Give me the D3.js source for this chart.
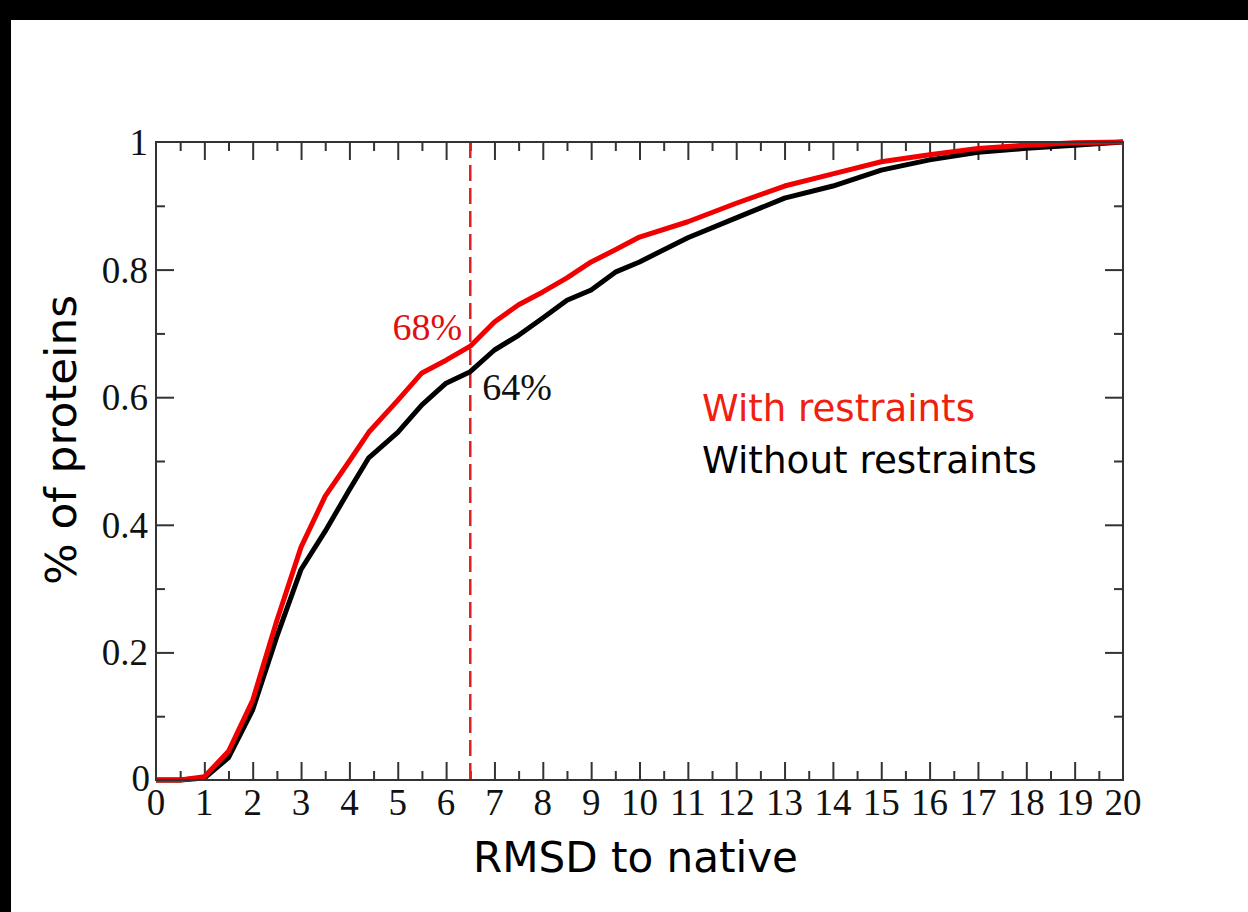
<!DOCTYPE html>
<html>
<head>
<meta charset="utf-8">
<script src="https://cdn.jsdelivr.net/npm/d3@7"></script>
<style>
html,body{margin:0;padding:0;background:#000;}
svg{display:block;}
</style>
</head>
<body>
<svg id="chart" width="1248" height="912"></svg>
<script>
// ---- data ----
const rmsd = [0,0.5,1,1.5,2,2.5,3,3.5,4,4.4,5,5.5,6,6.5,7,7.5,8,8.5,9,9.5,10,11,12,13,14,15,16,17,18,19,20];
const withRestraints = [0,0,0.005,0.045,0.125,0.25,0.365,0.445,0.5,0.545,0.595,0.638,0.658,0.68,0.718,0.745,0.765,0.787,0.812,0.831,0.851,0.875,0.904,0.931,0.95,0.969,0.98,0.99,0.995,0.999,1];
const withoutRestraints = [0,0,0.003,0.035,0.11,0.225,0.33,0.39,0.455,0.505,0.545,0.588,0.622,0.64,0.674,0.697,0.724,0.752,0.768,0.796,0.812,0.85,0.881,0.912,0.931,0.956,0.972,0.984,0.99,0.995,1];
const xTickLabels = d3.range(0,21);
const yTickLabels = [0,0.2,0.4,0.6,0.8,1];
const cutoff = 6.5;
const annotations = [{text:"68%", series:"with"},{text:"64%", series:"without"}];
const legendLabels = ["With restraints","Without restraints"];

// ---- layout ----
const svg = d3.select("#chart");
svg.append("rect").attr("x",11).attr("y",20).attr("width",1237).attr("height",892).attr("fill","#fff");

const L=156, R=1123, T=142, B=780;
const x = d3.scaleLinear().domain([0,20]).range([L,R]);
const y = d3.scaleLinear().domain([0,1]).range([B,T]);
const axisColor = "#333";
const serif = "'Liberation Serif','Times New Roman',serif";
const sans = "'DejaVu Sans',Verdana,sans-serif";

function drawTicks(g, axisGen){
  g.call(axisGen);
  g.select(".domain").remove();
  g.selectAll(".tick line").attr("stroke",axisColor).attr("stroke-width",2);
  g.selectAll(".tick text").remove();
}
const xMinor = d3.range(0,20.01,0.5).filter(v=>v%1!==0);
const yMinor = d3.range(0.1,1,0.2);
drawTicks(svg.append("g").attr("transform",`translate(0,${B})`), d3.axisBottom(x).tickValues(d3.range(1,20)).tickSize(-18));
drawTicks(svg.append("g").attr("transform",`translate(0,${B})`), d3.axisBottom(x).tickValues(xMinor).tickSize(-9));
drawTicks(svg.append("g").attr("transform",`translate(0,${T})`), d3.axisTop(x).tickValues(d3.range(1,20)).tickSize(-18));
drawTicks(svg.append("g").attr("transform",`translate(0,${T})`), d3.axisTop(x).tickValues(xMinor).tickSize(-9));
drawTicks(svg.append("g").attr("transform",`translate(${L},0)`), d3.axisLeft(y).tickValues([0.2,0.4,0.6,0.8]).tickSize(-18));
drawTicks(svg.append("g").attr("transform",`translate(${L},0)`), d3.axisLeft(y).tickValues(yMinor).tickSize(-9));
drawTicks(svg.append("g").attr("transform",`translate(${R},0)`), d3.axisRight(y).tickValues([0.2,0.4,0.6,0.8]).tickSize(-18));
drawTicks(svg.append("g").attr("transform",`translate(${R},0)`), d3.axisRight(y).tickValues(yMinor).tickSize(-9));

// cutoff dashed line
svg.append("line").attr("x1",x(cutoff)).attr("x2",x(cutoff)).attr("y1",T).attr("y2",B)
  .attr("stroke","#e02020").attr("stroke-width",2.5).attr("stroke-dasharray","16,7");

// curves
const line = d3.line().x((d,i)=>x(rmsd[i])).y(d=>y(d));
svg.append("path").datum(withoutRestraints).attr("d",line).attr("fill","none")
  .attr("stroke","#000").attr("stroke-width",5).attr("stroke-linejoin","round");
svg.append("path").datum(withRestraints).attr("d",line).attr("fill","none")
  .attr("stroke","#f00000").attr("stroke-width",5).attr("stroke-linejoin","round");

// frame
svg.append("rect").attr("x",L).attr("y",T).attr("width",R-L).attr("height",B-T)
  .attr("fill","none").attr("stroke",axisColor).attr("stroke-width",2);

// tick labels
svg.append("g").selectAll("text").data(xTickLabels).join("text")
  .attr("x",d=>x(d)).attr("y",B+35).attr("text-anchor","middle")
  .attr("font-family",serif).attr("font-size",37).attr("fill","#111").text(d=>d);
svg.append("g").selectAll("text").data(yTickLabels).join("text")
  .attr("x",d=>d===0?L-6:L-8).attr("y",d=>y(d)+(d===0?11:13)).attr("text-anchor","end")
  .attr("font-family",serif).attr("font-size",37).attr("fill","#111").text(d=>d);

// axis titles
svg.append("text").attr("x",(L+R)/2-4).attr("y",872).attr("text-anchor","middle")
  .attr("font-family",sans).attr("font-size",42).attr("fill","#000")
  .attr("textLength",325).attr("lengthAdjust","spacingAndGlyphs").text("RMSD to native");
svg.append("text").attr("transform","translate(76,440) rotate(-90)").attr("text-anchor","middle")
  .attr("font-family",sans).attr("font-size",42).attr("fill","#000")
  .attr("textLength",290).attr("lengthAdjust","spacingAndGlyphs").text("% of proteins");

// annotations
const idx = rmsd.indexOf(cutoff);
svg.append("text").attr("x",x(cutoff)-8).attr("y",y(withRestraints[idx])-6).attr("text-anchor","end")
  .attr("font-family",serif).attr("font-size",38).attr("fill","#e01010").text(annotations[0].text);
svg.append("text").attr("x",x(cutoff)+12).attr("y",y(withoutRestraints[idx])+28).attr("text-anchor","start")
  .attr("font-family",serif).attr("font-size",38).attr("fill","#111").text(annotations[1].text);

// legend
svg.append("text").attr("x",702).attr("y",421).attr("font-family",sans).attr("font-size",38)
  .attr("fill","#f02010").attr("textLength",273).attr("lengthAdjust","spacingAndGlyphs").text(legendLabels[0]);
svg.append("text").attr("x",702).attr("y",473).attr("font-family",sans).attr("font-size",38)
  .attr("fill","#000").attr("textLength",335).attr("lengthAdjust","spacingAndGlyphs").text(legendLabels[1]);
</script>
</body>
</html>
